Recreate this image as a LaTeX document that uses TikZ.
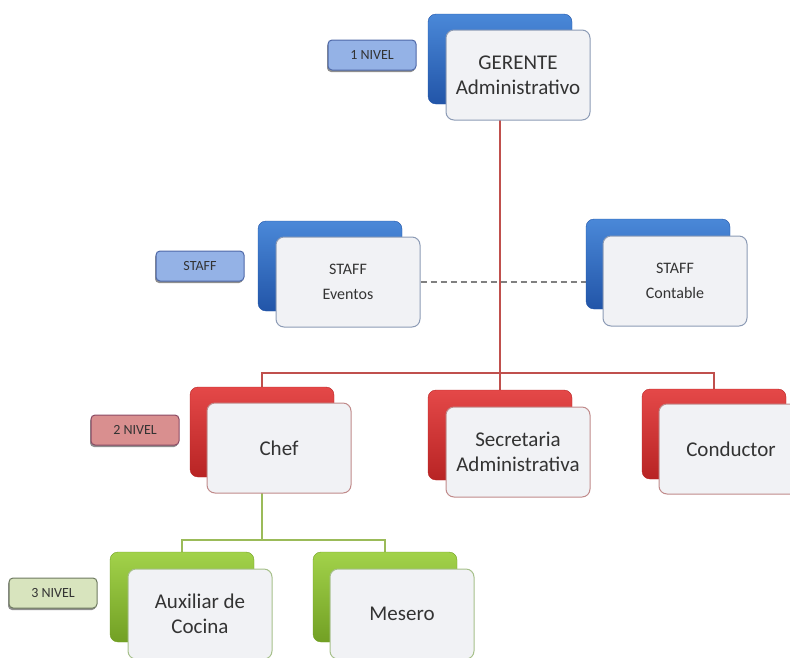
\documentclass[tikz,border=0pt]{standalone}
\usepackage{fontspec}
\setmainfont{Carlito}
\usepackage{xcolor}
\usepackage{tikz}
\usetikzlibrary{backgrounds,shadows}

\definecolor{nivblue}{HTML}{4A88D8}
\definecolor{nivbluedk}{HTML}{2255A8}
\definecolor{nivred}{HTML}{E44848}
\definecolor{nivreddk}{HTML}{B82424}
\definecolor{nivgreen}{HTML}{A2D24A}
\definecolor{nivgreendk}{HTML}{72A024}
\definecolor{linered}{HTML}{C0504D}
\definecolor{linegreen}{HTML}{9BBB59}
\definecolor{lblblue}{HTML}{94B2E6}
\definecolor{lblbluedk}{HTML}{4E68A8}
\definecolor{lblred}{HTML}{D98F8F}
\definecolor{lblreddk}{HTML}{8A4A64}
\definecolor{lblgreen}{HTML}{D8E4BE}
\definecolor{lblgreendk}{HTML}{6E7A60}
\definecolor{frontfill}{HTML}{F1F2F5}
\definecolor{frontblue}{HTML}{8C9BB5}
\definecolor{frontred}{HTML}{C08A8A}
\definecolor{frontgreen}{HTML}{A6C08A}

\begin{document}
\begin{tikzpicture}[x=1pt, y=-1pt,
  back/.style={rectangle, rounded corners=8pt, minimum width=144pt, minimum height=90pt, inner sep=0pt},
  bblue/.style={back, top color=nivblue, bottom color=nivbluedk, draw=nivbluedk},
  bred/.style={back, top color=nivred, bottom color=nivreddk, draw=nivreddk},
  bgreen/.style={back, top color=nivgreen, bottom color=nivgreendk, draw=nivgreendk},
  front/.style={rectangle, rounded corners=8pt, minimum width=144pt, minimum height=90pt, align=center, fill=frontfill, line width=1pt, text=black!80, font=\fontsize{21}{25}\selectfont},
  fblue/.style={front, draw=frontblue},
  fred/.style={front, draw=frontred},
  fgreen/.style={front, draw=frontgreen},
  small/.style={font=\fontsize{16}{25}\selectfont},
  level/.style={rectangle, rounded corners=4pt, minimum width=88pt, minimum height=30pt, font=\fontsize{14}{16}\selectfont, line width=1pt, text=black!80, drop shadow={shadow xshift=-1pt, shadow yshift=-2pt, fill=black!55, opacity=0.8}},
  conn/.style={line width=1.5pt}
]
\useasboundingbox (0,0) rectangle (790,657);

% level labels
\node[level, fill=lblblue, draw=lblbluedk] (niv1) at (372,55) {1 NIVEL};
\node[level, fill=lblblue, draw=lblbluedk] (nivstaff) at (200,266) {STAFF};
\node[level, fill=lblred, draw=lblreddk] (niv2) at (135,430) {2 NIVEL};
\node[level, fill=lblgreen, draw=lblgreendk] (niv3) at (53,593) {3 NIVEL};

% back boxes
\node[bblue] (gerB) at (500,59) {};
\node[bblue] (evtB) at (330,266) {};
\node[bblue] (contB) at (658,264) {};
\node[bred] (chefB) at (262,432) {};
\node[bred] (secB) at (500,435) {};
\node[bred] (condB) at (714,434) {};
\node[bgreen] (auxB) at (182,597) {};
\node[bgreen] (mesB) at (385,597) {};

% front boxes
\node[fblue] (ger) at (518,75) {GERENTE\\Administrativo};
\node[fblue, small] (evt) at (348,282) {STAFF\\Eventos};
\node[fblue, small] (cont) at (675,281) {STAFF\\Contable};
\node[fred] (chef) at (279,448) {Chef};
\node[fred] (sec) at (518,452) {Secretaria\\Administrativa};
\node[fred] (cond) at (731,449) {Conductor};
\node[fgreen] (aux) at (200,614) {Auxiliar de\\Cocina};
\node[fgreen] (mes) at (402,614) {Mesero};

\coordinate (rbus) at (500,373);
\coordinate (gbus) at (262,540);

\begin{scope}[on background layer]
\draw[conn, linered] (gerB) -- (secB);
\draw[conn, linered] (chefB) |- (rbus) -| (condB);
\draw[conn, linegreen] (chefB) -- (gbus);
\draw[conn, linegreen] (auxB) |- (gbus) -| (mesB);
\draw[line width=1.5pt, gray, dash pattern=on 6pt off 4pt] (evt.east) -- (evt.east -| cont.west);
\end{scope}

\end{tikzpicture}
\end{document}
